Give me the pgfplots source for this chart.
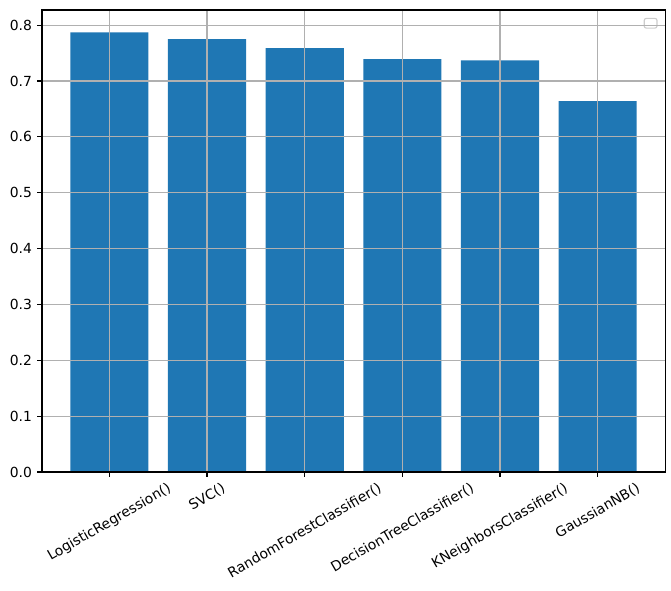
\documentclass[border=0pt]{standalone}
\usepackage{fontspec}
\setmainfont{DejaVu Sans}
\usepackage{graphicx}
\usepackage{pgfplots}
\pgfplotsset{compat=1.18}
\definecolor{mplblue}{HTML}{1F77B4}
\definecolor{mplgrid}{HTML}{B0B0B0}
\begin{document}
\begin{tikzpicture}
\useasboundingbox (-30.24pt,-85.68pt) rectangle (452.88pt,339.84pt);
\begin{axis}[
  at={(0,0)}, anchor=south west,
  scale only axis,
  width=448.6pt, height=332.6pt,
  xmin=-0.69, xmax=5.69,
  ymin=0, ymax=0.827,
  axis on top,
  axis line style={black, line width=0.8pt},
  grid=major,
  major grid style={mplgrid, line width=0.8pt},
  tick style={black, line width=0.8pt},
  major tick length=3.5pt,
  tick align=outside,
  xtick pos=lower, ytick pos=left,
  xtick={0,1,2,3,4,5},
  xticklabels={
    \rotatebox{30}{LogisticRegression()},
    \rotatebox{30}{SVC()},
    \rotatebox{30}{RandomForestClassifier()},
    \rotatebox{30}{DecisionTreeClassifier()},
    \rotatebox{30}{KNeighborsClassifier()},
    \rotatebox{30}{GaussianNB()}},
  xticklabel style={anchor=north, inner sep=0pt, yshift=-3.5pt, font=\fontsize{10}{12}\selectfont},
  ytick={0,0.1,0.2,0.3,0.4,0.5,0.6,0.7,0.8},
  /pgf/number format/fixed,
  /pgf/number format/fixed zerofill,
  /pgf/number format/precision=1,
  /pgf/number format/assume math mode=true,
  yticklabel style={font=\fontsize{10}{12}\selectfont, inner sep=0pt, xshift=-3.5pt},
]
\addplot[ybar, bar width=0.8, fill=mplblue, draw=none] coordinates {
  (0,0.787) (1,0.775) (2,0.759) (3,0.739) (4,0.737) (5,0.664)
};
\draw[draw=black!20, fill=white, rounded corners=1.5pt, line width=0.8pt]
  ([xshift=-15pt,yshift=-6pt]rel axis cs:1,1) rectangle ([xshift=-5.8pt,yshift=-13pt]rel axis cs:1,1);
\end{axis}
\end{tikzpicture}
\end{document}
